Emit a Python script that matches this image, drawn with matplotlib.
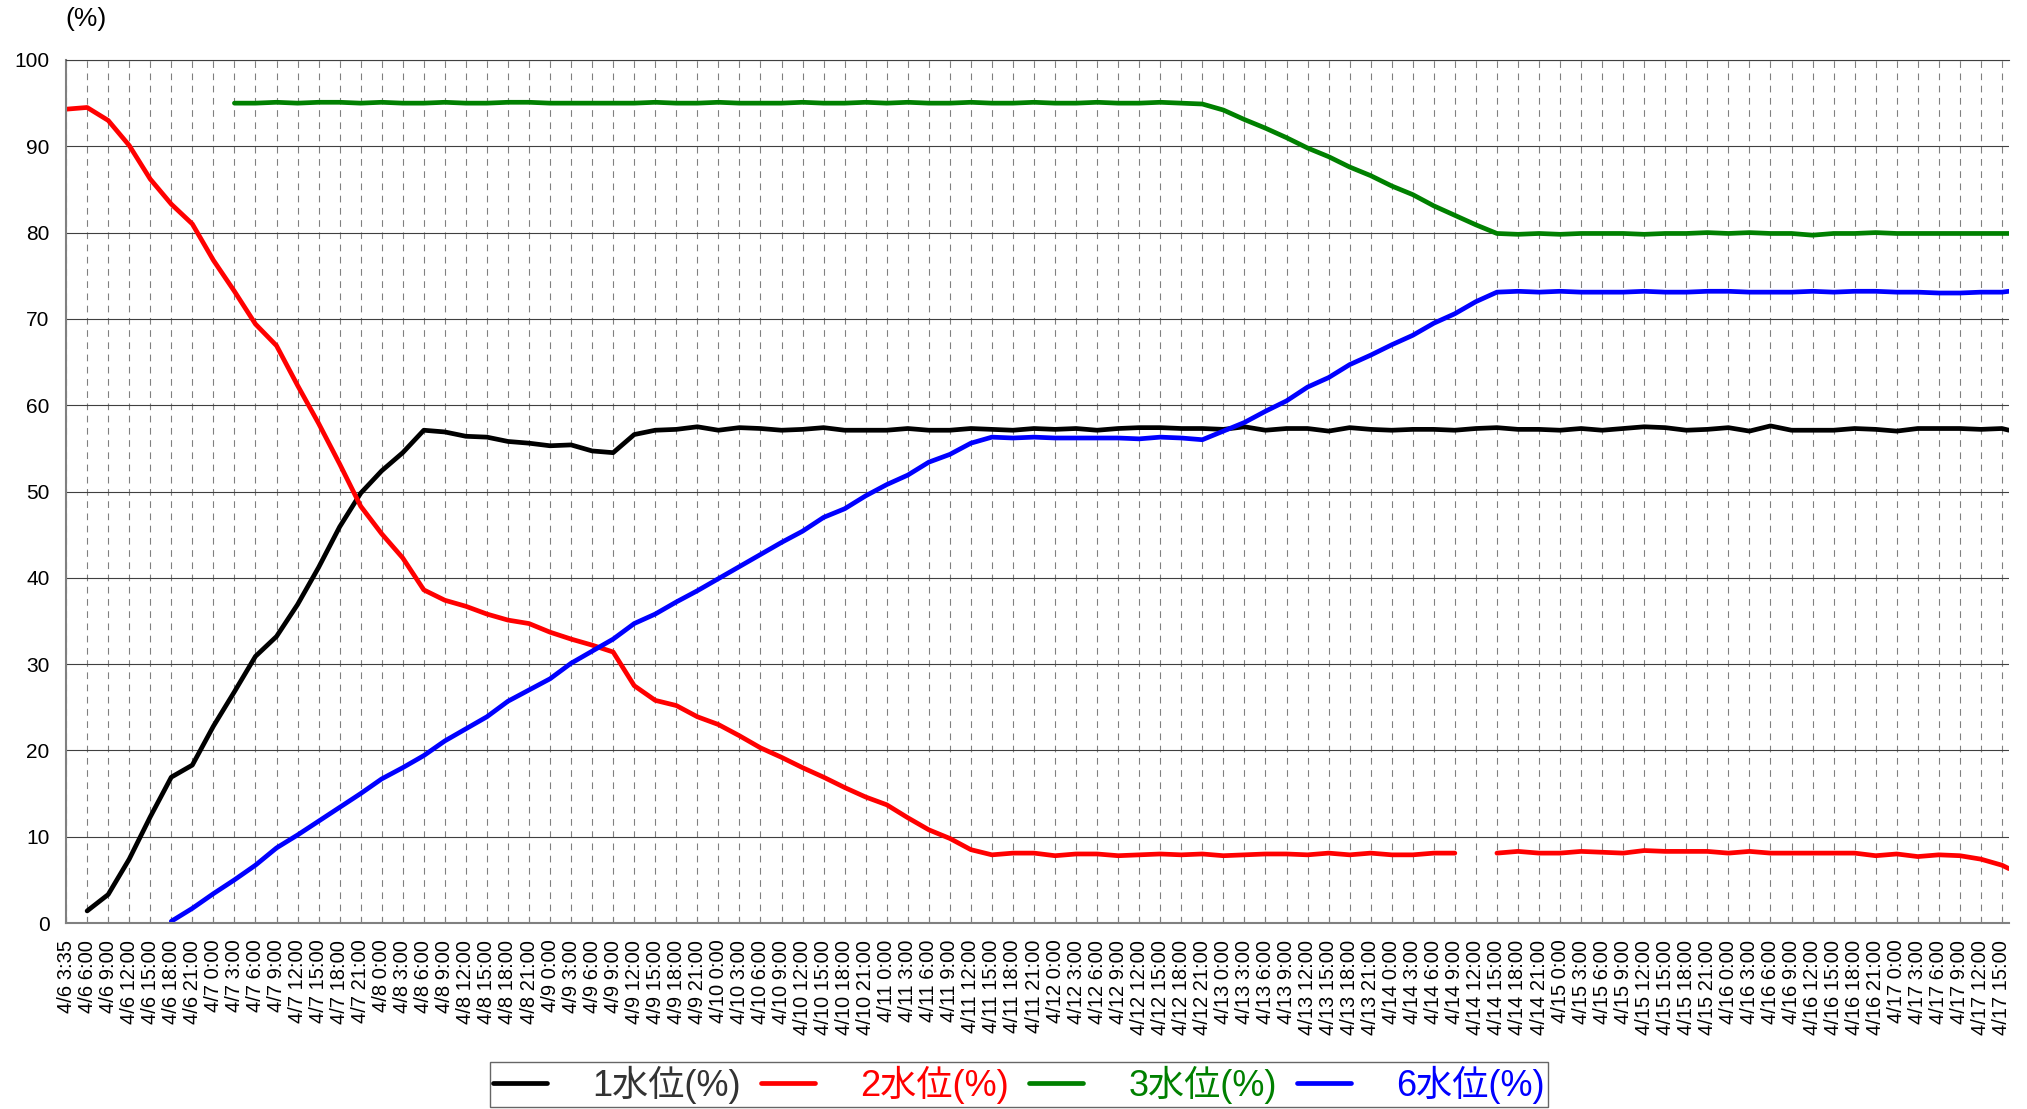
import numpy as np
import matplotlib
matplotlib.use('Agg')
from matplotlib import pyplot as plt

nan = np.nan

# 目盛りラベル (3時間ごと)
tick_labels = ['4/6 3:35'] + [f'4/{d} {h}:00' for d in range(6, 18) for h in range(0, 24, 3)
                              if (6, 6) <= (d, h) <= (17, 15)]
tick_hours = [3 * k for k in range(len(tick_labels))]
# 各点の時刻 (4/6 3:35 からの経過時間, 最後は 4/17 16:00)
x_hours = tick_hours + [277]

series_names = ['1水位(%)', '2水位(%)', '3水位(%)', '6水位(%)']
series_colors = ['black', 'red', 'green', 'blue']
text_colors = ['#333333', 'red', 'green', 'blue']

level1 = [nan, 1.4, 3.3, 7.4, 12.3, 16.9, 18.3, 22.8, 26.8, 30.9,
          33.2, 36.9, 41.2, 45.9, 49.8, 52.4, 54.5, 57.1, 56.9, 56.4,
          56.3, 55.8, 55.6, 55.3, 55.4, 54.7, 54.5, 56.6, 57.1, 57.2,
          57.5, 57.1, 57.4, 57.3, 57.1, 57.2, 57.4, 57.1, 57.1, 57.1,
          57.3, 57.1, 57.1, 57.3, 57.2, 57.1, 57.3, 57.2, 57.3, 57.1,
          57.3, 57.4, 57.4, 57.3, 57.3, 57.2, 57.5, 57.1, 57.3, 57.3,
          57.0, 57.4, 57.2, 57.1, 57.2, 57.2, 57.1, 57.3, 57.4, 57.2,
          57.2, 57.1, 57.3, 57.1, 57.3, 57.5, 57.4, 57.1, 57.2, 57.4,
          57.0, 57.6, 57.1, 57.1, 57.1, 57.3, 57.2, 57.0, 57.3, 57.3,
          57.3, 57.2, 57.3, 57.1]

level2 = [94.3, 94.5, 93.0, 90.1, 86.2, 83.3, 81.0, 76.8, 73.2, 69.4,
          66.9, 62.3, 57.9, 53.2, 48.3, 45.1, 42.3, 38.6, 37.4, 36.7,
          35.8, 35.1, 34.7, 33.7, 32.9, 32.2, 31.4, 27.5, 25.8, 25.2,
          23.9, 23.0, 21.7, 20.3, 19.2, 18.0, 16.9, 15.7, 14.6, 13.7,
          12.2, 10.8, 9.8, 8.5, 7.9, 8.1, 8.1, 7.8, 8.0, 8.0,
          7.8, 7.9, 8.0, 7.9, 8.0, 7.8, 7.9, 8.0, 8.0, 7.9,
          8.1, 7.9, 8.1, 7.9, 7.9, 8.1, 8.1, nan, 8.1, 8.3,
          8.1, 8.1, 8.3, 8.2, 8.1, 8.4, 8.3, 8.3, 8.3, 8.1,
          8.3, 8.1, 8.1, 8.1, 8.1, 8.1, 7.8, 8.0, 7.7, 7.9,
          7.8, 7.4, 6.7, 6.3]

level3 = [nan, nan, nan, nan, nan, nan, nan, nan, 95.0, 95.0,
          95.1, 95.0, 95.1, 95.1, 95.0, 95.1, 95.0, 95.0, 95.1, 95.0,
          95.0, 95.1, 95.1, 95.0, 95.0, 95.0, 95.0, 95.0, 95.1, 95.0,
          95.0, 95.1, 95.0, 95.0, 95.0, 95.1, 95.0, 95.0, 95.1, 95.0,
          95.1, 95.0, 95.0, 95.1, 95.0, 95.0, 95.1, 95.0, 95.0, 95.1,
          95.0, 95.0, 95.1, 95.0, 94.9, 94.2, 93.1, 92.1, 91.0, 89.8,
          88.8, 87.6, 86.6, 85.4, 84.4, 83.1, 82.0, 80.9, 79.9, 79.8,
          79.9, 79.8, 79.9, 79.9, 79.9, 79.8, 79.9, 79.9, 80.0, 79.9,
          80.0, 79.9, 79.9, 79.7, 79.9, 79.9, 80.0, 79.9, 79.9, 79.9,
          79.9, 79.9, 79.9, 79.9]

level6 = [nan, nan, nan, nan, nan, 0.2, 1.7, 3.4, 5.0, 6.7,
          8.7, 10.2, 11.8, 13.4, 15.0, 16.7, 18.0, 19.4, 21.1, 22.5,
          23.9, 25.7, 27.0, 28.3, 30.1, 31.5, 32.9, 34.7, 35.8, 37.2,
          38.5, 39.9, 41.3, 42.7, 44.1, 45.4, 47.0, 48.0, 49.5, 50.8,
          51.9, 53.4, 54.3, 55.6, 56.3, 56.2, 56.3, 56.2, 56.2, 56.2,
          56.2, 56.1, 56.3, 56.2, 56.0, 57.0, 58.0, 59.3, 60.5, 62.1,
          63.2, 64.7, 65.8, 67.0, 68.1, 69.5, 70.6, 72.0, 73.1, 73.2,
          73.1, 73.2, 73.1, 73.1, 73.1, 73.2, 73.1, 73.1, 73.2, 73.2,
          73.1, 73.1, 73.1, 73.2, 73.1, 73.2, 73.2, 73.1, 73.1, 73.0,
          73.0, 73.1, 73.1, 73.2]

levels = [level1, level2, level3, level6]

base_font = ['Liberation Sans', 'Noto Sans CJK JP', 'DejaVu Sans']
plt.rcParams['font.family'] = base_font

fig = plt.figure(figsize=(20.27, 11.09), dpi=100)
ax = fig.add_axes([0.0326, 0.1677, 0.9585, 0.7782])

for vals, name, col in zip(levels, series_names, series_colors):
    ax.plot(x_hours, vals, color=col, lw=3.4, label=name, solid_joinstyle='round', solid_capstyle='round')

ax.set_xlim(0, 277)
ax.set_ylim(0, 100)
ax.set_yticks(range(0, 101, 10))
ax.set_xticks(tick_hours)
ax.set_xticklabels(tick_labels, rotation=90, fontsize=14.5)

ax.grid(axis='x', color='#808080', lw=0.8, ls=(0, (6, 5)))
ax.grid(axis='y', color='#404040', lw=0.8)
ax.set_axisbelow(True)

ax.tick_params(axis='x', direction='in', length=4, color='#808080', pad=12)
ax.tick_params(axis='y', length=0, pad=12, labelsize=15)

for side in ['left', 'bottom']:
    ax.spines[side].set_color('#808080')
    ax.spines[side].set_linewidth(1.5)
ax.spines['top'].set_color('#404040')
ax.spines['top'].set_linewidth(0.8)
ax.spines['right'].set_visible(False)

fig.text(0.0321, 1 - 19 / 1109, '(%)', ha='left', va='center', fontsize=19)

leg = fig.legend(loc='lower center', bbox_to_anchor=(0.5027, 0.0), ncol=4, frameon=True,
                 fancybox=False, prop={'family': base_font, 'size': 26},
                 handlelength=1.5, handletextpad=1.25, columnspacing=0.55,
                 borderpad=0.1, borderaxespad=0.05)
leg.get_frame().set_edgecolor('#404040')
leg.get_frame().set_linewidth(1.0)
for t, c in zip(leg.get_texts(), text_colors):
    t.set_color(c)

fig.savefig('out.png', dpi=100, facecolor='white')
